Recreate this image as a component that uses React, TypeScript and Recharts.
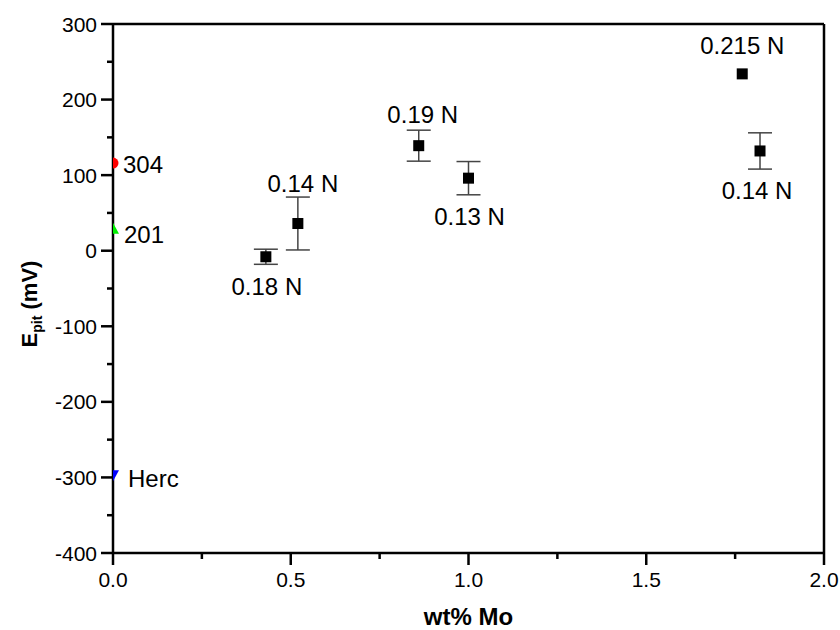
import React from 'react';
import { ScatterChart, Scatter, XAxis, YAxis, ErrorBar, ReferenceLine } from 'recharts';

// Stainless steels: Mo content vs pitting potential
const moContent = [0.43, 0.52, 0.86, 1.0, 1.77, 1.82];
const pittingPotential = [-8, 36, 139, 96, 234, 132];
const pittingError = [10, 35, 20.5, 22, 0, 24];
const nitrogenLabels = ['0.18 N', '0.14 N', '0.19 N', '0.13 N', '0.215 N', '0.14 N'];

// Reference grades (no Mo)
const refGrades = ['304', '201', 'Herc'];
const refMo = [0, 0, 0];
const refPotential = [116, 29, -297];

const yTicks = [-400, -350, -300, -250, -200, -150, -100, -50, 0, 50, 100, 150, 200, 250, 300];
const xTicks = [0, 0.25, 0.5, 0.75, 1.0, 1.25, 1.5, 1.75, 2.0];
const yMajor = [-400, -300, -200, -100, 0, 100, 200, 300];
const xMajor = [0, 0.5, 1.0, 1.5, 2.0];

const mainData = moContent.map((x, i) => ({
  x,
  y: pittingPotential[i],
  err: pittingError[i],
  label: nitrogenLabels[i],
}));
const refData = refGrades.map((g, i) => ({ x: refMo[i], y: refPotential[i], label: g }));

// label placement relative to the marker (layout only)
const labelOffsets: [number, number][] = [
  [1, 30],
  [5, -40],
  [4, -31],
  [1, 38],
  [0, -28],
  [-3, 40],
];
const FONT = 'Arial, "Liberation Sans", Helvetica, sans-serif';

const MainShape = (props: any) => {
  const { cx, cy, index } = props;
  const p = props.payload;
  const off = labelOffsets[index] || [0, 0];
  return (
    <g>
      <rect x={cx - 5.5} y={cy - 5.5} width={11} height={11} fill="#000" />
      <text
        x={cx + off[0]}
        y={cy + off[1]}
        textAnchor="middle"
        dominantBaseline="central"
        fontFamily={FONT}
        fontSize={24}
        fill="#000"
      >
        {p.label}
      </text>
    </g>
  );
};

const RefShape = (props: any) => {
  const { cx, cy, index } = props;
  const p = props.payload;
  let marker: React.ReactNode = null;
  let dy = 0;
  let dx = 10;
  if (index === 0) {
    marker = <path d={`M${cx},${cy - 5.5} A5.5,5.5 0 0 1 ${cx},${cy + 5.5} Z`} fill="#ff0000" />;
    dy = 1;
  } else if (index === 1) {
    marker = <polygon points={`${cx},${cy - 6} ${cx + 6},${cy + 5} ${cx},${cy + 5}`} fill="#00ee00" />;
    dy = 6;
    dx = 11;
  } else {
    marker = <polygon points={`${cx},${cy - 5} ${cx + 6},${cy - 5} ${cx},${cy + 6}`} fill="#0000ff" />;
    dy = 3;
    dx = 15;
  }
  return (
    <g>
      {marker}
      <text
        x={cx + dx}
        y={cy + dy}
        textAnchor="start"
        dominantBaseline="central"
        fontFamily={FONT}
        fontSize={24}
        fill="#000"
      >
        {p.label}
      </text>
    </g>
  );
};

const YTick = (props: any) => {
  const { x, y, payload } = props;
  const v = payload.value;
  const major = yMajor.includes(v);
  return (
    <g>
      <line x1={x} x2={x - (major ? 12 : 6)} y1={y} y2={y} stroke="#000" strokeWidth={2.5} />
      {major && (
        <text
          x={x - 16}
          y={y}
          textAnchor="end"
          dominantBaseline="central"
          fontFamily={FONT}
          fontSize={21}
          fill="#000"
        >
          {v}
        </text>
      )}
    </g>
  );
};

const XTick = (props: any) => {
  const { x, y, payload } = props;
  const v = payload.value;
  const major = xMajor.includes(v);
  return (
    <g>
      <line x1={x} x2={x} y1={y} y2={y + (major ? 12 : 6)} stroke="#000" strokeWidth={2.5} />
      {major && (
        <text
          x={x}
          y={y + 26}
          textAnchor="middle"
          dominantBaseline="central"
          fontFamily={FONT}
          fontSize={21}
          fill="#000"
        >
          {v.toFixed(1)}
        </text>
      )}
    </g>
  );
};

const YLabel = () => (
  <text
    transform="translate(37, 304) rotate(-90)"
    textAnchor="middle"
    fontFamily={FONT}
    fontSize={22}
    fontWeight="bold"
    fill="#000"
  >
    E<tspan fontSize={14} dy={5}>pit</tspan>
    <tspan dy={-5}> (mV)</tspan>
  </text>
);

export default function App() {
  return (
    <div style={{ position: 'absolute', left: 0, top: 0, background: '#fff' }}>
      <ScatterChart
        width={840}
        height={630}
        margin={{ top: 24, right: 16, bottom: 0, left: 0 }}
      >
        <XAxis
          type="number"
          dataKey="x"
          domain={[0, 2]}
          ticks={xTicks}
          interval={0}
          height={77}
          tickSize={0}
          tickMargin={0}
          tickLine={false}
          tick={<XTick />}
          axisLine={{ stroke: '#000', strokeWidth: 2.5 }}
          allowDataOverflow
          label={{
            value: 'wt% Mo',
            position: 'insideBottom',
            offset: 5,
            style: { fontFamily: FONT, fontSize: 24, fontWeight: 'bold', fill: '#000' },
          }}
        />
        <YAxis
          type="number"
          dataKey="y"
          domain={[-400, 300]}
          ticks={yTicks}
          interval={0}
          width={113}
          tickSize={0}
          tickMargin={0}
          tickLine={false}
          tick={<YTick />}
          axisLine={{ stroke: '#000', strokeWidth: 2.5 }}
          allowDataOverflow
          label={<YLabel />}
        />
        <ReferenceLine y={300} stroke="#000" strokeWidth={2.5} />
        <ReferenceLine x={2} stroke="#000" strokeWidth={2.5} />
        <Scatter data={mainData} isAnimationActive={false} shape={<MainShape />}>
          <ErrorBar dataKey="err" direction="y" width={12} stroke="#444" strokeWidth={1.5} />
        </Scatter>
        <Scatter data={refData} isAnimationActive={false} shape={<RefShape />} />
      </ScatterChart>
    </div>
  );
}
